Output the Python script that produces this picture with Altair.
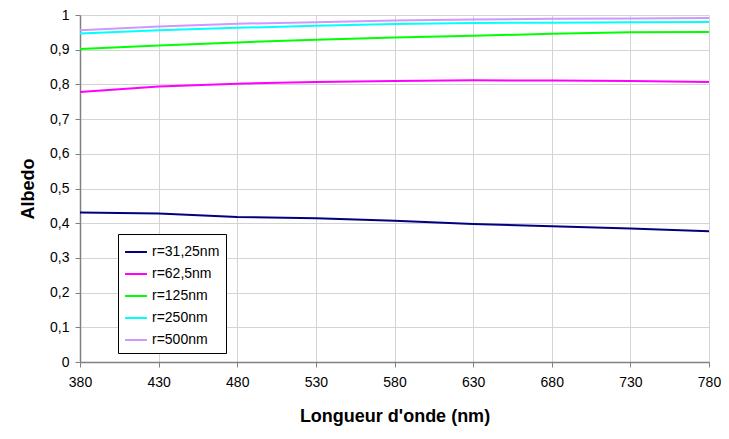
import altair as alt
import pandas as pd

wavelengths = [380, 430, 480, 530, 580, 630, 680, 730, 780]
series_names = ["r=31,25nm", "r=62,5nm", "r=125nm", "r=250nm", "r=500nm"]
colors = ["#000080", "#ff00ff", "#00ff00", "#00ffff", "#cc99ff"]
r31 = [0.431, 0.428, 0.418, 0.414, 0.407, 0.398, 0.391, 0.385, 0.377]
r62 = [0.778, 0.794, 0.802, 0.807, 0.810, 0.812, 0.811, 0.810, 0.807]
r125 = [0.902, 0.912, 0.921, 0.929, 0.935, 0.940, 0.946, 0.950, 0.951]
r250 = [0.947, 0.956, 0.963, 0.969, 0.974, 0.977, 0.978, 0.979, 0.980]
r500 = [0.956, 0.967, 0.975, 0.979, 0.984, 0.987, 0.989, 0.990, 0.991]

rows = []
for name, vals in zip(series_names, [r31, r62, r125, r250, r500]):
    for w, v in zip(wavelengths, vals):
        rows.append({"wl": w, "albedo": v, "serie": name, "order": series_names.index(name)})
df = pd.DataFrame(rows)

font = "Liberation Sans"

chart = alt.Chart(df).mark_line(strokeWidth=2, clip=True).encode(
    x=alt.X("wl:Q", scale=alt.Scale(domain=[380, 780], nice=False, zero=False),
            axis=alt.Axis(values=wavelengths, title="Longueur d'onde (nm)",
                          titleFont=font, titleFontSize=18, titleFontWeight="bold",
                          titleColor="black", titlePadding=18,
                          labelFont=font, labelFontSize=14, labelColor="black",
                          labelPadding=8, tickSize=5, tickColor="#808080",
                          domainColor="#808080", domainWidth=1.5,
                          grid=True, gridColor="#d4d4d4", labelFlush=False)),
    y=alt.Y("albedo:Q", scale=alt.Scale(domain=[0, 1], nice=False),
            axis=alt.Axis(values=[0, 0.1, 0.2, 0.3, 0.4, 0.5, 0.6, 0.7, 0.8, 0.9, 1.0],
                          labelExpr="replace(format(datum.value, '.1~f'), '.', ',')",
                          title="Albedo", titleFont=font, titleFontSize=18,
                          titleFontWeight="bold", titleColor="black", titlePadding=12,
                          labelFont=font, labelFontSize=14, labelColor="black",
                          labelPadding=6, tickSize=5, tickColor="#808080",
                          domainColor="#808080", domainWidth=1.5,
                          grid=True, gridColor="#d4d4d4")),
    color=alt.Color("serie:N", scale=alt.Scale(domain=series_names, range=colors),
                    legend=alt.Legend(title=None, orient="none", legendX=38, legendY=219,
                                      symbolType="stroke", symbolSize=480,
                                      symbolStrokeWidth=2, labelFont=font,
                                      labelFontSize=14, labelColor="black",
                                      rowPadding=3, padding=6,
                                      strokeColor="black", fillColor="white",
                                      labelOffset=4)),
    order="order:Q",
).properties(
    width=629, height=347,
    autosize=alt.AutoSizeParams(type="none"),
    padding={"left": 72, "top": 7, "right": 12, "bottom": 66},
).configure_view(stroke=None)

chart.save("out.html", embed_options={"renderer": "svg", "actions": False})
